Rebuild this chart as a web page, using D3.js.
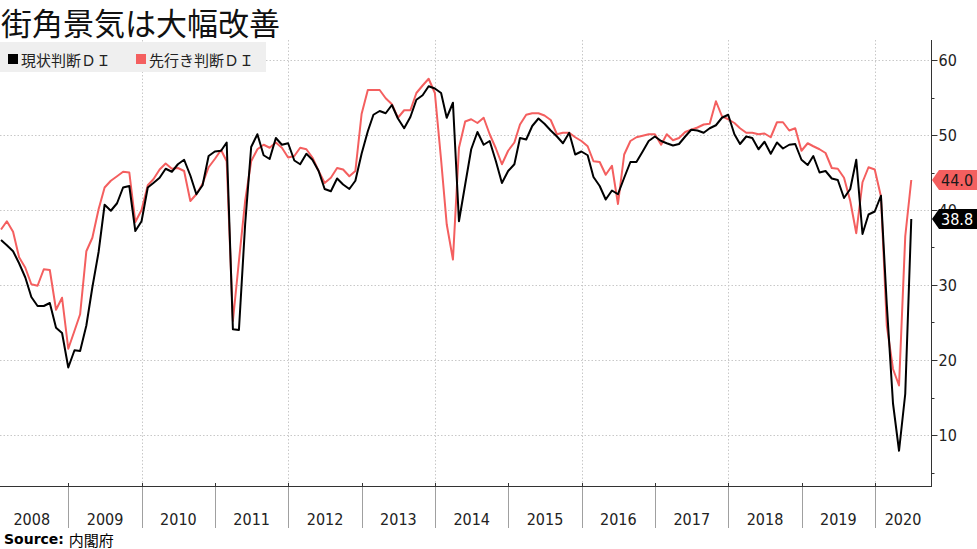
<!DOCTYPE html>
<html>
<head>
<meta charset="utf-8">
<script src="https://cdn.jsdelivr.net/npm/d3@7"></script>
<style>
  body { margin: 0; background: #fff; }
  svg { display: block; }
</style>
</head>
<body>
<script>
const title = "街角景気は大幅改善";
const sourceText = "内閣府";
const seriesNames = ["現状判断ＤＩ", "先行き判断ＤＩ"];
const startYear = 2008;
const years = d3.range(2008, 2021);
const yTicks = [10, 20, 30, 40, 50, 60];
const yMinorTicks = [5, 15, 25, 35, 45, 55];
const gridYears = [2010, 2012, 2014, 2016, 2018, 2020];

// monthly, Jan 2008 .. Jun 2020
const current = [
  36.0, 35.3, 34.5, 32.9, 31.0, 28.4, 27.2, 27.2, 27.6, 24.3, 23.6, 19.0,
  21.3, 21.2, 24.6, 29.7, 34.4, 40.7, 39.9, 40.9, 43.0, 43.2, 37.2, 38.5,
  43.0, 43.6, 44.3, 45.5, 45.1, 46.1, 46.7, 44.6, 42.1, 43.3, 47.2, 47.8,
  47.9, 49.0, 24.1, 24.0, 38.1, 48.4, 50.1, 47.3, 46.8, 49.6, 48.7, 48.9,
  46.6, 46.1, 47.5, 46.7, 45.2, 42.8, 42.5, 44.2, 43.4, 42.8, 43.9, 47.5,
  50.5, 52.7, 53.2, 52.9, 54.0, 52.2, 50.9, 52.4, 54.7, 55.3, 56.5, 56.2,
  55.6, 52.3, 54.3, 38.5, 43.4, 48.1, 50.4, 48.7, 49.2, 46.5, 43.6, 45.2,
  46.1, 49.6, 49.4, 51.2, 52.2, 51.5, 50.6, 49.8, 48.9, 50.3, 47.4, 47.8,
  47.3, 44.4, 43.2, 41.4, 42.6, 42.1, 44.3, 46.4, 46.4, 47.8, 49.2, 49.8,
  49.2, 48.9, 48.6, 48.8, 49.8, 50.7, 50.6, 50.3, 50.9, 51.3, 52.3, 52.7,
  50.1, 48.8, 49.8, 49.6, 48.1, 49.1, 47.5, 49.0, 48.2, 48.7, 48.8, 46.7,
  46.0, 47.2, 45.0, 45.2, 44.2, 44.0, 41.6, 42.8, 46.7, 36.8, 39.4, 39.8,
  41.9, 27.4, 14.2, 7.9, 15.5, 38.8
];
const outlook = [
  37.4, 38.5, 37.1, 33.7, 32.3, 30.1, 29.9, 32.1, 32.0, 26.7, 28.3, 21.5,
  23.9, 26.1, 34.5, 36.3, 40.1, 43.0, 43.9, 44.5, 45.1, 45.0, 38.4, 40.0,
  43.3, 44.1, 45.4, 46.2, 45.5, 45.6, 45.2, 41.2, 42.1, 43.5, 45.7, 46.8,
  48.0, 46.5, 25.2, 33.2, 41.2, 46.5, 48.1, 48.7, 48.3, 49.0, 48.3, 47.0,
  47.2, 48.3, 48.1, 47.0, 45.2, 43.6, 44.3, 45.6, 45.4, 44.5, 45.2, 52.8,
  56.0, 56.0, 56.0, 54.9, 54.1, 52.3, 53.3, 53.3, 55.6, 56.6, 57.5, 55.6,
  46.7, 38.1, 33.4, 48.3, 51.8, 52.1, 51.6, 52.3, 50.1, 48.2, 46.1, 47.9,
  49.0, 51.4, 52.7, 52.9, 52.9, 52.6, 52.0, 50.1, 50.3, 50.3, 49.7, 49.2,
  48.5, 46.5, 46.4, 44.7, 45.9, 40.8, 47.4, 49.2, 49.7, 49.9, 50.1, 50.1,
  48.7, 50.1, 49.3, 49.6, 50.4, 50.7, 51.0, 51.4, 51.5, 54.5, 52.5, 52.1,
  51.6, 50.9, 50.3, 50.3, 50.1, 50.2, 49.7, 51.7, 51.7, 50.6, 50.9, 47.9,
  48.9, 48.5, 48.1, 47.6, 45.6, 45.5, 44.3, 41.2, 36.9, 43.7, 45.7, 45.4,
  41.8, 24.6, 18.8, 16.6, 36.5, 44.0
];

const colors = ["#000000", "#f45f5f"];
const numFont = "'DejaVu Sans Condensed', 'DejaVu Sans', sans-serif";
const jpFont = "'Noto Sans CJK JP', sans-serif";

const width = 977, height = 549;
const plot = {left: 0, right: 931, top: 40, bottom: 486};

const svg = d3.select("body").append("svg")
  .attr("width", width)
  .attr("height", height)
  .style("background", "#fff");

const dates = current.map((d, i) => new Date(startYear, i + 1, 0));

const x = d3.scaleTime()
  .domain([new Date(2008, 0, 1), new Date(2021, 0, 1)])
  .range([-5, -5 + 13 * 73.34]);

const y = d3.scaleLinear()
  .domain([0, 60])
  .range([510, 60]);

svg.append("defs").append("clipPath").attr("id", "plotclip")
  .append("rect")
  .attr("x", plot.left).attr("y", plot.top)
  .attr("width", plot.right - plot.left).attr("height", plot.bottom - plot.top);

// grid
const grid = svg.append("g").attr("stroke", "#c8c8c8").attr("stroke-dasharray", "1.5,2");
grid.selectAll("line.h").data(yTicks).enter().append("line")
  .attr("x1", plot.left).attr("x2", plot.right)
  .attr("y1", d => Math.round(y(d)) + 0.5).attr("y2", d => Math.round(y(d)) + 0.5);
grid.selectAll("line.v").data(gridYears).enter().append("line")
  .attr("x1", d => Math.round(x(new Date(d, 0, 1))) + 0.5)
  .attr("x2", d => Math.round(x(new Date(d, 0, 1))) + 0.5)
  .attr("y1", plot.top).attr("y2", plot.bottom);

// title
svg.append("text")
  .attr("x", 1).attr("y", 21)
  .attr("dominant-baseline", "central")
  .style("font-family", jpFont)
  .style("font-size", "31px")
  .style("font-weight", 400)
  .attr("fill", "#111")
  .text(title);

// legend
const legend = svg.append("g");
legend.append("rect")
  .attr("x", 0).attr("y", 42).attr("width", 266).attr("height", 30)
  .attr("fill", "#efefef");
const legendX = [8, 136];
seriesNames.forEach((name, i) => {
  legend.append("rect")
    .attr("x", legendX[i]).attr("y", 54).attr("width", 10).attr("height", 10)
    .attr("fill", colors[i]);
  legend.append("text")
    .attr("x", legendX[i] + 13).attr("y", 59)
    .attr("dominant-baseline", "central")
    .style("font-family", jpFont)
    .style("font-size", "15px")
    .attr("fill", "#222")
    .text(name);
});

// lines
const line = d3.line()
  .x((d, i) => x(dates[i]))
  .y(d => y(d));

const lines = svg.append("g").attr("clip-path", "url(#plotclip)");
[outlook, current].forEach((series, k) => {
  lines.append("path")
    .datum(series)
    .attr("fill", "none")
    .attr("stroke", k === 0 ? colors[1] : colors[0])
    .attr("stroke-width", 2)
    .attr("stroke-linejoin", "round")
    .attr("d", line);
});

// right axis
const yAxis = svg.append("g").attr("transform", `translate(${plot.right + 0.5},0)`);
yAxis.append("line")
  .attr("y1", plot.top).attr("y2", plot.bottom)
  .attr("stroke", "#333").attr("stroke-width", 1);
yAxis.selectAll("line.major").data(yTicks).enter().append("line")
  .attr("x1", 0).attr("x2", 6)
  .attr("y1", d => Math.round(y(d)) + 0.5).attr("y2", d => Math.round(y(d)) + 0.5)
  .attr("stroke", "#333");
yAxis.selectAll("line.minor").data(yMinorTicks).enter().append("line")
  .attr("x1", 0).attr("x2", 3)
  .attr("y1", d => Math.round(y(d)) + 0.5).attr("y2", d => Math.round(y(d)) + 0.5)
  .attr("stroke", "#333");
yAxis.selectAll("text").data(yTicks).enter().append("text")
  .attr("x", 7).attr("y", d => y(d))
  .attr("dominant-baseline", "central")
  .style("font-family", numFont)
  .style("font-stretch", "condensed")
  .style("font-size", "16px")
  .attr("fill", "#222")
  .text(d => d);

// bottom axis
const xAxis = svg.append("g");
xAxis.append("line")
  .attr("x1", plot.left).attr("x2", plot.right + 1)
  .attr("y1", plot.bottom + 0.5).attr("y2", plot.bottom + 0.5)
  .attr("stroke", "#333");
const bounds = years.slice(1).map(yr => Math.round(x(new Date(yr, 0, 1))) + 0.5);
xAxis.selectAll("line.tick").data(bounds).enter().append("line")
  .attr("x1", d => d).attr("x2", d => d)
  .attr("y1", plot.bottom - 3).attr("y2", plot.bottom)
  .attr("stroke", "#333");
xAxis.selectAll("line.sep").data(bounds).enter().append("line")
  .attr("x1", d => d).attr("x2", d => d)
  .attr("y1", plot.bottom + 1).attr("y2", 528)
  .attr("stroke", "#a0a0a0");
xAxis.selectAll("text").data(years).enter().append("text")
  .attr("x", d => (x(new Date(d, 0, 1)) + Math.min(x(new Date(d + 1, 0, 1)), plot.right)) / 2)
  .attr("y", 519)
  .attr("text-anchor", "middle")
  .attr("dominant-baseline", "central")
  .style("font-family", numFont)
  .style("font-stretch", "condensed")
  .style("font-size", "16px")
  .attr("fill", "#222")
  .text(d => d);

// last value tags
const tags = [
  {v: outlook[outlook.length - 1], fill: colors[1], text: "#1a1a1a"},
  {v: current[current.length - 1], fill: "#000", text: "#fff"}
];
tags.forEach(t => {
  const cy = y(t.v);
  const x0 = plot.right + 1;
  svg.append("path")
    .attr("d", `M${x0},${cy} L${x0 + 7},${cy - 10} L${width},${cy - 10} L${width},${cy + 10} L${x0 + 7},${cy + 10} Z`)
    .attr("fill", t.fill);
  svg.append("text")
    .attr("x", x0 + 9).attr("y", cy)
    .attr("dominant-baseline", "central")
    .style("font-family", numFont)
    .style("font-stretch", "condensed")
    .style("font-size", "16px")
    .attr("fill", t.text)
    .text(t.v.toFixed(1));
});

// source
const src = svg.append("text")
  .attr("x", 4).attr("y", 539)
  .attr("dominant-baseline", "central")
  .style("font-size", "14px");
src.append("tspan")
  .style("font-family", "'DejaVu Sans', sans-serif")
  .style("font-weight", "bold")
  .text("Source: ");
src.append("tspan")
  .style("font-family", jpFont)
  .style("font-size", "15px")
  .text(sourceText);
</script>
</body>
</html>
